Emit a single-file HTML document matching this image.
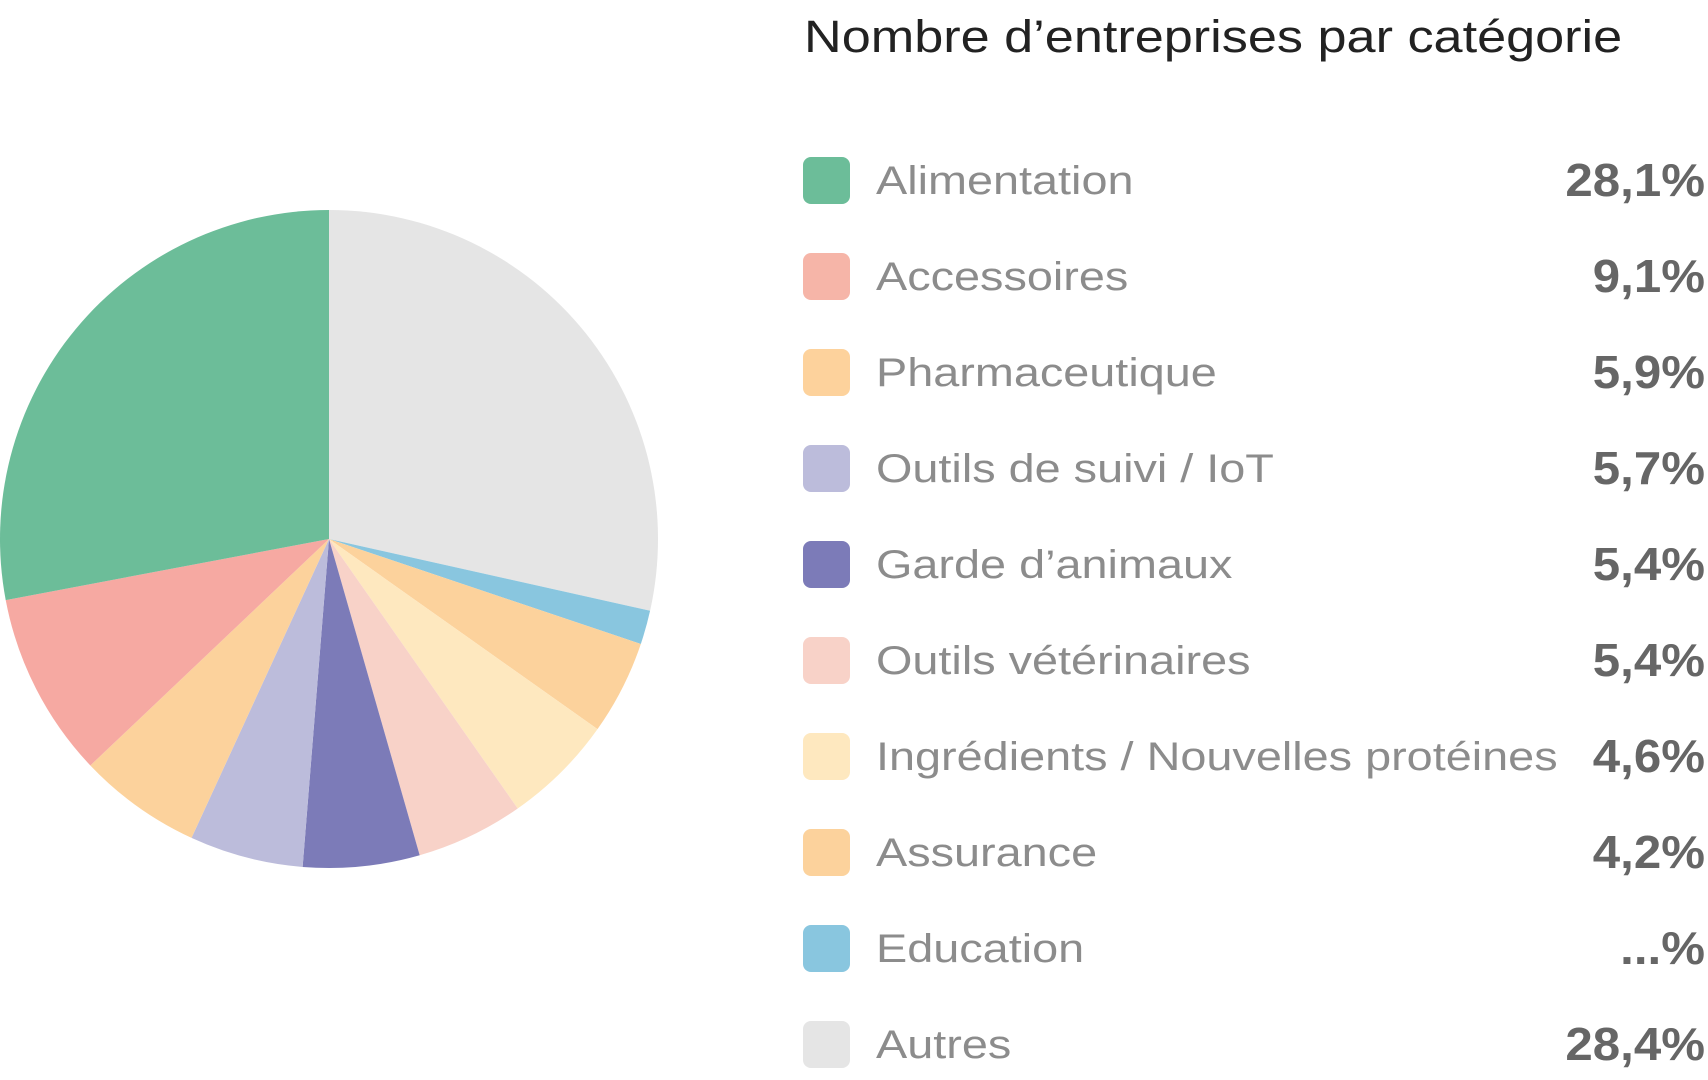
<!DOCTYPE html>
<html><head><meta charset="utf-8"><style>
body{margin:0;width:1708px;height:1080px;background:#fff;overflow:hidden;font-family:"Liberation Sans",sans-serif}
svg{position:absolute;left:0;top:0}
</style></head><body>
<svg width="1708" height="1080" xmlns="http://www.w3.org/2000/svg" id="s">
<g id="pie"></g>
<text class="st" data-k="1.16" x="804" y="52" font-size="45" fill="#222" font-family="Liberation Sans, sans-serif">Nombre d’entreprises par catégorie</text>
<g id="leg" font-family="Liberation Sans, sans-serif"></g>
</svg>
<script>
var cx=329,cy=539,r=329;
var sl=[[0,102.6,"#e5e5e5"],[102.6,108.6,"#89c6df"],[108.6,125.3,"#fcd29c"],[125.3,145,"#fee8bf"],[145,164,"#f8d2c8"],[164,184.6,"#7c7bb8"],[184.6,204.7,"#bcbcdb"],[204.7,226.5,"#fcd29c"],[226.5,259.3,"#f6a9a2"],[259.3,360,"#6cbd99"]];
function pt(a){a=a*Math.PI/180;return [cx+r*Math.sin(a),cy-r*Math.cos(a)];}
var h="";
sl.forEach(function(s){var p=pt(s[0]),q=pt(s[1]);var lg=(s[1]-s[0])>180?1:0;
h+='<path d="M'+cx+','+cy+' L'+p[0].toFixed(2)+','+p[1].toFixed(2)+' A'+r+','+r+' 0 '+lg+' 1 '+q[0].toFixed(2)+','+q[1].toFixed(2)+' Z" fill="'+s[2]+'"/>';});
document.getElementById("pie").innerHTML=h;
var L=[["Alimentation","28,1%","#6cbd99"],["Accessoires","9,1%","#f6b5a8"],["Pharmaceutique","5,9%","#fdd29c"],["Outils de suivi / IoT","5,7%","#bcbcdb"],["Garde d’animaux","5,4%","#7c7bb8"],["Outils vétérinaires","5,4%","#f8d2c8"],["Ingrédients / Nouvelles protéines","4,6%","#fee8bf"],["Assurance","4,2%","#fcd29c"],["Education","...%","#89c6df"],["Autres","28,4%","#e5e5e5"]];
var g="";
L.forEach(function(l,i){var y=180+i*96;
g+='<rect x="803" y="'+(y-23)+'" width="47" height="47" rx="8" fill="'+l[2]+'"/>';
g+='<text class="st" data-k="1.17" x="876" y="'+(y+14)+'" font-size="40" fill="#8c8c8c">'+l[0]+'</text>';
g+='<text class="st" data-k="1.07" x="1705" y="'+(y+16)+'" font-size="46" font-weight="bold" fill="#666" text-anchor="end">'+l[1]+'</text>';});
document.getElementById("leg").innerHTML=g;
document.querySelectorAll(".st").forEach(function(t){var w=t.getComputedTextLength();t.setAttribute("textLength",(w*parseFloat(t.getAttribute("data-k"))).toFixed(1));t.setAttribute("lengthAdjust","spacingAndGlyphs");});
</script>
</body></html>
